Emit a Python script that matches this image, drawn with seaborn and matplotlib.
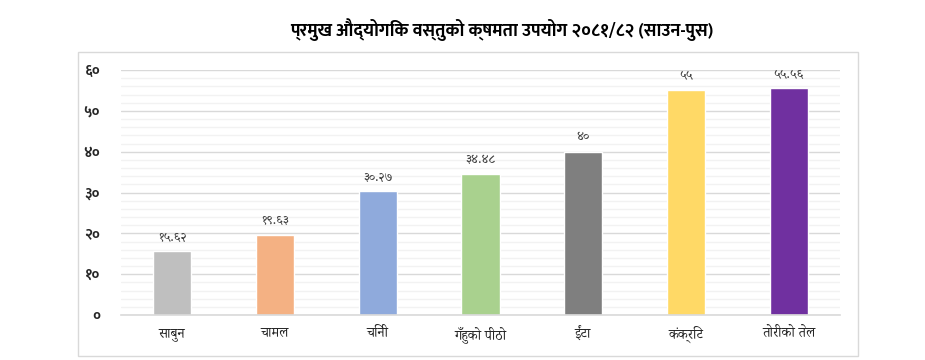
import matplotlib
matplotlib.use("Agg")
import matplotlib.pyplot as plt
from matplotlib import font_manager
from matplotlib.ticker import MultipleLocator, FixedLocator, FixedFormatter
from matplotlib.patches import Rectangle
import seaborn as sns
import pandas as pd

# ---------------- data ----------------
categories = ["साबुन", "चामल", "चिनी", "गँहुको पीठो", "ईंटा", "कंक्रिट", "तोरीको तेल"]
values = [15.62, 19.63, 30.27, 34.48, 40, 55, 55.56]
value_labels = ["१५.६२", "१९.६३", "३०.२७", "३४.४८", "४०", "५५", "५५.५६"]
ytick_values = [0, 10, 20, 30, 40, 50, 60]
ytick_labels = ["०", "१०", "२०", "३०", "४०", "५०", "६०"]
bar_colors = ["#BFBFBF", "#F4B183", "#8FAADC", "#A9D18E", "#7F7F7F", "#FFD966", "#7030A0"]
title = "प्रमुख औद्योगिक वस्तुको क्षमता उपयोग २०८१/८२ (साउन-पुस)"

# ---------------- fonts ----------------
ttf = font_manager.fontManager.ttflist
available = {f.name for f in ttf}
bold_available = {f.name for f in ttf
                  if isinstance(f.weight, int) and f.weight >= 700
                  and "wght" not in f.fname}

def pick(prefs, pool):
    for p in prefs:
        if p in pool:
            return p
    return None

prefs_sans = ["Noto Sans Devanagari", "Mukta", "Hind", "Poppins", "Lohit Devanagari", "FreeSans"]
sans_dev = pick(prefs_sans, available) or "DejaVu Sans"
bold_dev = pick(prefs_sans, bold_available) or pick(["Amiko", "Annapurna SIL", "FreeSerif"], bold_available) or sans_dev
serif_dev = pick(["Noto Serif Devanagari", "Kalimati", "Lohit Devanagari", "FreeSerif"], available) or sans_dev

sns.set_theme(style="white")
plt.rcParams["font.family"] = [sans_dev, "DejaVu Sans"]

df = pd.DataFrame({"cat": categories, "val": values})

fig = plt.figure(figsize=(9.25, 3.6), dpi=100)
ax = fig.add_axes([121 / 925, 1 - 315 / 360, 719 / 925, 245 / 360])

sns.barplot(data=df, x="cat", y="val", hue="cat", palette=bar_colors,
            width=0.37, legend=False, ax=ax, saturation=1)

ax.set_xlim(-0.5, len(categories) - 0.5)
ax.set_ylim(0, 60)
ax.yaxis.set_major_locator(FixedLocator(ytick_values))
ax.yaxis.set_major_formatter(FixedFormatter(ytick_labels))
ax.yaxis.set_minor_locator(MultipleLocator(2))
ax.grid(axis="y", which="major", color="#D9D9D9", linewidth=1.0)
ax.grid(axis="y", which="minor", color="#F2F2F2", linewidth=1.0)
ax.set_axisbelow(True)
for s in ["top", "right", "left"]:
    ax.spines[s].set_visible(False)
ax.spines["bottom"].set_color("#D9D9D9")
ax.spines["bottom"].set_linewidth(1.2)
ax.tick_params(axis="y", which="both", length=0, pad=15, labelsize=10.5)
ax.tick_params(axis="x", length=0, pad=8, labelsize=10, labelcolor="#262626")
for lab in ax.get_yticklabels():
    lab.set_fontweight("bold")
    lab.set_family([bold_dev, "DejaVu Sans"])
for lab in ax.get_xticklabels():
    lab.set_family([serif_dev, "DejaVu Sans"])
ax.set_xlabel("")
ax.set_ylabel("")

for i, (v, t) in enumerate(zip(values, value_labels)):
    ax.annotate(t, xy=(i, v), xytext=(0, 6), textcoords="offset points",
                ha="center", va="bottom", fontsize=9.5, color="#404040",
                family=[serif_dev, "DejaVu Sans"])

fig.text(502 / 925, 1 - 30 / 360, title, ha="center", va="center",
         fontsize=13, fontweight="bold", color="black",
         family=[bold_dev, "DejaVu Sans"])

fig.patches.append(Rectangle((78 / 925, 1 - 356 / 360), 780 / 925, 304 / 360,
                             transform=fig.transFigure, fill=False,
                             edgecolor="#D9D9D9", linewidth=1.0))

fig.savefig("out.png", dpi=100)
